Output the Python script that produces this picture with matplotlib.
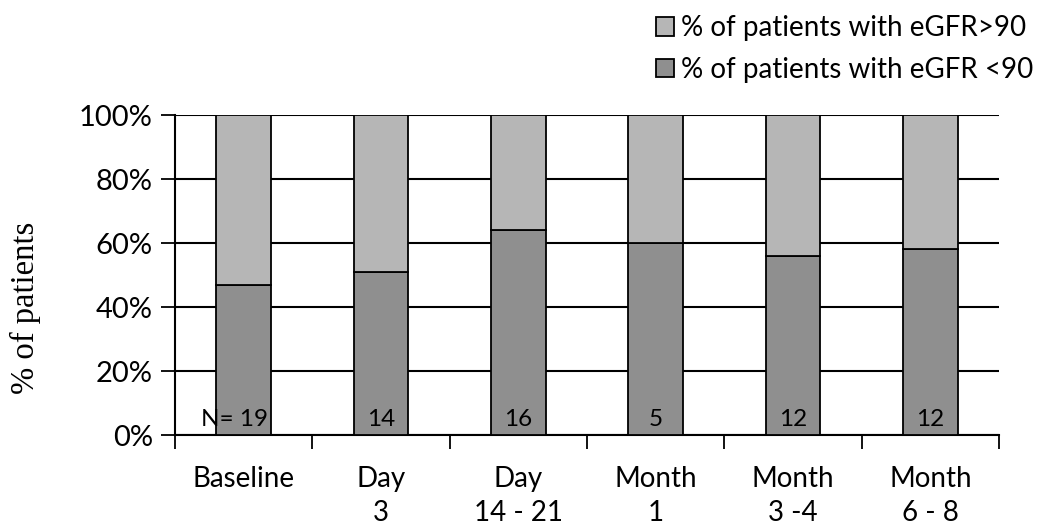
import matplotlib
matplotlib.use("Agg")
import matplotlib.pyplot as plt
import numpy as np

categories = ["Baseline", "Day\n3", "Day\n14 - 21", "Month\n1", "Month\n3 -4", "Month\n6 - 8"]
below90 = [47, 51, 64, 60, 56, 58]
above90 = [53, 49, 36, 40, 44, 42]
n_labels = ["N= 19", "14", "16", "5", "12", "12"]
yticks = [0, 20, 40, 60, 80, 100]
yticklabels = ["0%", "20%", "40%", "60%", "80%", "100%"]

FONT = "Lato"
plt.rcParams['font.family'] = [FONT, 'DejaVu Sans']

fig = plt.figure(figsize=(10.53, 5.28), dpi=100)
ax = fig.add_axes([175/1053, 1-435/528, (999-175)/1053, (435-115)/528])

x = np.arange(len(categories))
dark = "#8f8f8f"
light = "#b6b6b6"
w = 0.40
b1 = ax.bar(x, below90, w, color=dark, edgecolor="black", linewidth=1.3, zorder=3,
            label="% of patients with eGFR <90")
b2 = ax.bar(x, above90, w, bottom=below90, color=light, edgecolor="black", linewidth=1.3, zorder=3,
            label="% of patients with eGFR>90")

for i, t in enumerate(n_labels):
    dx = -0.07 if i == 0 else 0
    ax.text(x[i] + dx, 1.5, t, ha="center", va="bottom", fontsize=17.5, zorder=5)

ax.set_xlim(-0.5, len(categories) - 0.5)
ax.set_ylim(0, 100)
ax.set_yticks(yticks)
ax.set_yticklabels(yticklabels, fontsize=21)
ax.yaxis.grid(True, color="black", linewidth=1.5, zorder=0)
ax.set_axisbelow(True)

ax.set_xticks(np.arange(len(categories) + 1) - 0.5)
ax.set_xticklabels([])
ax.set_xticks(x, minor=True)
ax.set_xticklabels(categories, minor=True, fontsize=20, linespacing=1.42, va="top")
ax.tick_params(axis="x", which="minor", length=0, pad=22)
ax.tick_params(axis="x", which="major", length=10, width=1.3, direction="out")
ax.tick_params(axis="y", length=10, width=1.3, direction="out", pad=6)

for s in ["top", "right"]:
    ax.spines[s].set_visible(False)
ax.spines["left"].set_linewidth(1.5)
ax.spines["bottom"].set_linewidth(1.5)

fig.text(25/1053, 1-308/528, "% of patients", rotation=90, ha="center", va="center",
         fontsize=23.5, family=["Liberation Serif"])

leg = fig.legend(handles=[b2, b1], loc="upper left", bbox_to_anchor=(641/1053, 1.0),
                 frameon=False, fontsize=20, handlelength=0.65, handleheight=0.65,
                 handletextpad=0.25, labelspacing=0.55, borderaxespad=0.15)

fig.savefig("out.png", dpi=100)
